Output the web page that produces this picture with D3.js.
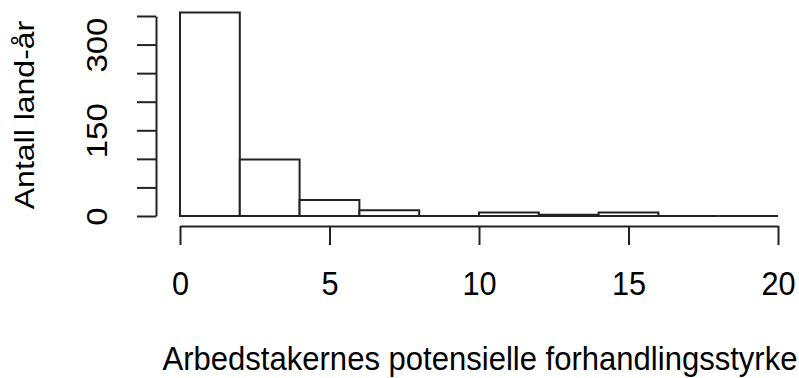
<!DOCTYPE html>
<html>
<head>
<meta charset="utf-8">
<script src="https://cdn.jsdelivr.net/npm/d3@7"></script>
<style>
  body { margin: 0; background: #fff; }
  text { font-family: "Liberation Sans", Arial, sans-serif; fill: #000; }
</style>
</head>
<body>
<svg id="hist" width="799" height="378"></svg>
<script>
// bin edges and counts
var binEdges = [0, 2, 4, 6, 8, 10, 12, 14, 16, 18, 20];
var binCounts = [356, 99, 28, 10, 0, 6, 2, 6, 0, 0];
var xTicks = [0, 5, 10, 15, 20];
var yTicks = [0, 50, 100, 150, 200, 250, 300, 350];
var yLabelled = [0, 150, 300];

var bins = binCounts.map(function(c, i) {
  return { x0: binEdges[i], x1: binEdges[i + 1], count: c };
});

var svg = d3.select("svg#hist");

var x = d3.scaleLinear().domain([0, 20]).range([180, 778]);
var y = d3.scaleLinear().domain([0, 350]).range([216, 16]);

// bars drawn as closed paths so empty bins still show as a flat line (like R)
svg.append("g")
  .selectAll("path")
  .data(bins)
  .enter().append("path")
    .attr("d", function(d) {
      var p = d3.path();
      p.moveTo(x(d.x0), y(0));
      p.lineTo(x(d.x0), y(d.count));
      p.lineTo(x(d.x1), y(d.count));
      p.lineTo(x(d.x1), y(0));
      p.closePath();
      return p.toString();
    })
    .attr("fill", "#fff")
    .attr("stroke", "#222")
    .attr("stroke-width", 2);

// x axis
var gx = svg.append("g")
  .attr("transform", "translate(0,226)")
  .call(d3.axisBottom(x).tickValues(xTicks).tickSize(19).tickSizeOuter(0));
gx.selectAll("path, line").attr("stroke", "#222").attr("stroke-width", 2);
gx.selectAll("text")
  .attr("y", 69.5)
  .attr("dy", null)
  .attr("font-size", 33)
  .attr("fill", "#000")
  .attr("transform", "scale(0.93,1)");

// y axis, labels rotated like R's default
var gy = svg.append("g")
  .attr("transform", "translate(156,0)")
  .call(d3.axisLeft(y).tickValues(yTicks).tickSize(19).tickSizeOuter(0)
    .tickFormat(function(d) { return yLabelled.indexOf(d) >= 0 ? d : ""; }));
gy.selectAll("path, line").attr("stroke", "#222").attr("stroke-width", 2);
gy.selectAll("text")
  .attr("x", 0)
  .attr("y", 0)
  .attr("dy", null)
  .attr("text-anchor", "middle")
  .attr("font-size", 33)
  .attr("fill", "#000")
  .attr("transform", "translate(-49,0) scale(0.87,1) rotate(-90)");

// titles
svg.append("text")
  .attr("x", 480)
  .attr("y", 370)
  .attr("text-anchor", "middle")
  .attr("font-size", 33)
  .attr("textLength", 635)
  .attr("lengthAdjust", "spacingAndGlyphs")
  .text("Arbedstakernes potensielle forhandlingsstyrke");

svg.append("text")
  .attr("transform", "translate(34,115) scale(0.87,1) rotate(-90)")
  .attr("text-anchor", "middle")
  .attr("font-size", 32)
  .text("Antall land-år");
</script>
</body>
</html>
